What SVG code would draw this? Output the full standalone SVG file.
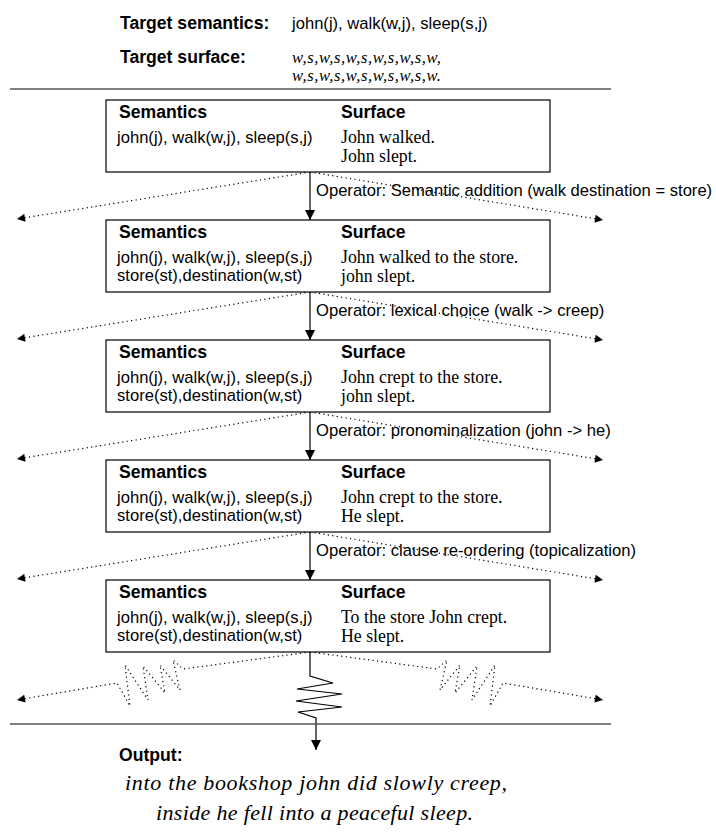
<svg xmlns="http://www.w3.org/2000/svg" width="716" height="832" viewBox="0 0 716 832">
  <defs>
    <style>
      .sans { font-family: "Liberation Sans", Arial, sans-serif; font-size: 16.6px; fill: #000; }
      .bold { font-family: "Liberation Sans", Arial, sans-serif; font-size: 17.6px; font-weight: bold; fill: #000; }
      .serif { font-family: "Liberation Serif", "Times New Roman", serif; font-size: 17.8px; fill: #000; }
      .ital { font-family: "Liberation Serif", "Times New Roman", serif; font-style: italic; fill: #000; }
      .box { fill: #fff; stroke: #000; stroke-width: 1.2; }
      .rule { stroke: #555; stroke-width: 1.5; fill: none; }
      .solid { stroke: #000; stroke-width: 1.2; fill: none; }
      .dots { stroke: #000; stroke-width: 1.2; fill: none; stroke-dasharray: 1.2 3.3; }
    </style>
    <marker id="head" markerUnits="userSpaceOnUse" viewBox="0 0 10 10" refX="10" refY="5" markerWidth="10" markerHeight="10" orient="auto">
      <path d="M0,0 L10,5 L0,10 z" fill="#000"/>
    </marker>
    <marker id="dothead" markerUnits="userSpaceOnUse" viewBox="0 0 10 10" refX="10" refY="5" markerWidth="10" markerHeight="8" orient="auto">
      <path d="M0,0 L10,5 L0,10 z" fill="#000"/>
    </marker>
  </defs>

  <!-- goal header -->
  <g id="target">
    <text class="bold" x="120" y="29">Target semantics:</text>
    <text class="sans" x="292" y="29">john(j), walk(w,j), sleep(s,j)</text>
    <text class="bold" x="120" y="63">Target surface:</text>
    <text class="ital" x="292" y="63" font-size="16.6" textLength="149" lengthAdjust="spacing">w,s,w,s,w,s,w,s,w,s,w,</text>
    <text class="ital" x="292" y="81" font-size="16.6" textLength="149" lengthAdjust="spacing">w,s,w,s,w,s,w,s,w,s,w.</text>
  </g>
  <line class="rule" x1="10" y1="89" x2="611" y2="89"/>

  <!-- connectors -->
  <g id="connectors">
    <!-- applied operators -->
    <line class="solid" x1="310" y1="172" x2="310" y2="220" marker-end="url(#head)"/>
    <line class="solid" x1="310" y1="292" x2="310" y2="340" marker-end="url(#head)"/>
    <line class="solid" x1="310" y1="412" x2="310" y2="460" marker-end="url(#head)"/>
    <line class="solid" x1="310" y1="532" x2="310" y2="580" marker-end="url(#head)"/>
    <!-- alternative branches -->
    <line class="dots" x1="310" y1="172" x2="17" y2="219" marker-end="url(#dothead)"/>
    <line class="dots" x1="310" y1="172" x2="603" y2="220" marker-end="url(#dothead)"/>
    <line class="dots" x1="310" y1="292" x2="17" y2="339" marker-end="url(#dothead)"/>
    <line class="dots" x1="310" y1="292" x2="603" y2="340" marker-end="url(#dothead)"/>
    <line class="dots" x1="310" y1="412" x2="17" y2="459" marker-end="url(#dothead)"/>
    <line class="dots" x1="310" y1="412" x2="603" y2="460" marker-end="url(#dothead)"/>
    <line class="dots" x1="310" y1="532" x2="17" y2="579" marker-end="url(#dothead)"/>
    <line class="dots" x1="310" y1="532" x2="603" y2="580" marker-end="url(#dothead)"/>
    <!-- remaining search, elided with springs -->
    <polyline class="dots" points="310,652 183,669 173,660 180,690 160,665 165,693 143,666 148,700 125,665 130,706 117,683 17,700" marker-end="url(#dothead)"/>
    <polyline class="dots" points="310,652 437,669 447,660 440,690 460,665 455,693 477,666 472,700 495,665 490,706 503,683 603,700" marker-end="url(#dothead)"/>
    <polyline class="solid" points="310,652 310,676 333,683 297,689 342,694 296,701 342,707 298,712 316,718 316,750" marker-end="url(#head)"/>
  </g>

  <!-- operator labels -->
  <g id="operators">
    <text class="sans" x="316" y="196">Operator: Semantic addition (walk destination = store)</text>
    <text class="sans" x="316" y="316">Operator: lexical choice (walk -&gt; creep)</text>
    <text class="sans" x="316" y="436">Operator: pronominalization (john -&gt; he)</text>
    <text class="sans" x="316" y="556">Operator: clause re-ordering (topicalization)</text>
  </g>

  <!-- search states -->
  <g id="state1">
    <rect class="box" x="106" y="100" width="444" height="72"/>
    <text class="bold" x="119" y="118">Semantics</text>
    <text class="bold" x="341" y="118">Surface</text>
    <text class="sans" x="117" y="143">john(j), walk(w,j), sleep(s,j)</text>
    <text class="serif" x="341" y="143">John walked.</text>
    <text class="serif" x="341" y="162">John slept.</text>
  </g>
  <g id="state2">
    <rect class="box" x="106" y="220" width="444" height="72"/>
    <text class="bold" x="119" y="238">Semantics</text>
    <text class="bold" x="341" y="238">Surface</text>
    <text class="sans" x="117" y="263">john(j), walk(w,j), sleep(s,j)</text>
    <text class="sans" x="117" y="281">store(st),destination(w,st)</text>
    <text class="serif" x="341" y="263">John walked to the store.</text>
    <text class="serif" x="341" y="282">john slept.</text>
  </g>
  <g id="state3">
    <rect class="box" x="106" y="340" width="444" height="72"/>
    <text class="bold" x="119" y="358">Semantics</text>
    <text class="bold" x="341" y="358">Surface</text>
    <text class="sans" x="117" y="383">john(j), walk(w,j), sleep(s,j)</text>
    <text class="sans" x="117" y="401">store(st),destination(w,st)</text>
    <text class="serif" x="341" y="383">John crept to the store.</text>
    <text class="serif" x="341" y="402">john slept.</text>
  </g>
  <g id="state4">
    <rect class="box" x="106" y="460" width="444" height="72"/>
    <text class="bold" x="119" y="478">Semantics</text>
    <text class="bold" x="341" y="478">Surface</text>
    <text class="sans" x="117" y="503">john(j), walk(w,j), sleep(s,j)</text>
    <text class="sans" x="117" y="521">store(st),destination(w,st)</text>
    <text class="serif" x="341" y="503">John crept to the store.</text>
    <text class="serif" x="341" y="522">He slept.</text>
  </g>
  <g id="state5">
    <rect class="box" x="106" y="580" width="444" height="72"/>
    <text class="bold" x="119" y="598">Semantics</text>
    <text class="bold" x="341" y="598">Surface</text>
    <text class="sans" x="117" y="623">john(j), walk(w,j), sleep(s,j)</text>
    <text class="sans" x="117" y="641">store(st),destination(w,st)</text>
    <text class="serif" x="341" y="623">To the store John crept.</text>
    <text class="serif" x="341" y="642">He slept.</text>
  </g>

  <line class="rule" x1="10" y1="724" x2="611" y2="724"/>

  <!-- final output -->
  <g id="output">
    <text class="bold" x="119" y="761">Output:</text>
    <text class="ital" x="125" y="790" font-size="22" textLength="382" lengthAdjust="spacing">into the bookshop john did slowly creep,</text>
    <text class="ital" x="156" y="820" font-size="22" textLength="317" lengthAdjust="spacing">inside he fell into a peaceful sleep.</text>
  </g>
</svg>
